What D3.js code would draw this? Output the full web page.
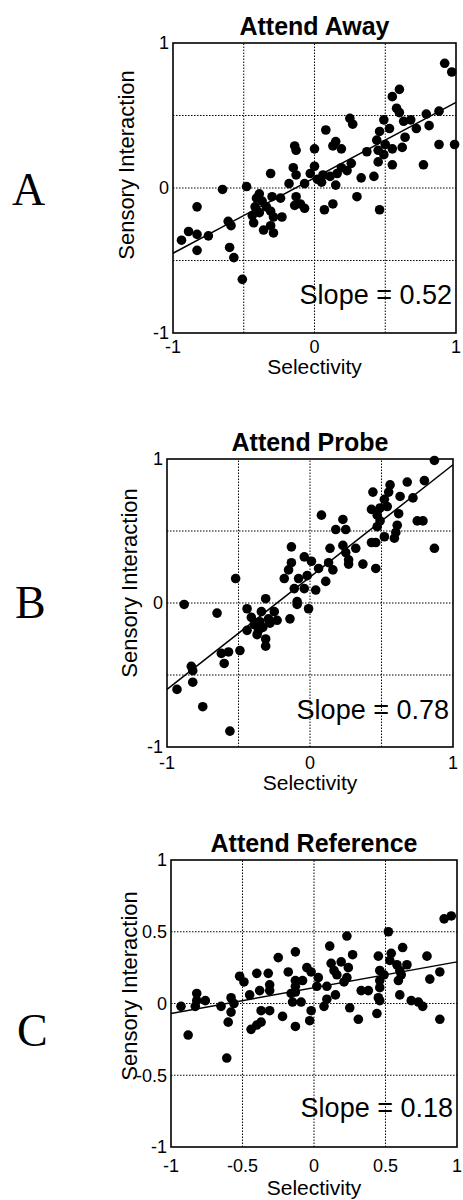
<!DOCTYPE html>
<html><head><meta charset="utf-8">
<script src="https://cdnjs.cloudflare.com/ajax/libs/d3/7.8.5/d3.min.js"></script>
<style>body{margin:0;background:#fff}svg{display:block}</style>
</head><body><svg id="c" width="463" height="1200"></svg>
<script>
const panelLetters = ["A", "B", "C"];
const panelTitles = ["Attend Away", "Attend Probe", "Attend Reference"];
const slopeLabels = ["Slope = 0.52", "Slope = 0.78", "Slope = 0.18"];
const fitSlopes = [0.52, 0.78, 0.18];
const fitIntercepts = [0.07, 0.18, 0.11];
const xTicksA = [-1, 0, 1];
const xTicksB = [-1, 0, 1];
const xTicksC = [-1, -0.5, 0, 0.5, 1];
const yTicksA = [-1, 0, 1];
const yTicksB = [-1, 0, 1];
const yTicksC = [-1, -0.5, 0, 0.5, 1];
const gridValues = [-0.5, 0, 0.5];
const xAxisTitle = "Selectivity";
const yAxisTitle = "Sensory Interaction";

const selectivityA = [0.92,0.97,0.60,0.55,0.58,0.60,0.79,0.88,0.25,0.27,0.49,0.63,0.68,0.72,0.81,0.08,0.46,0.53,0.64,0.15,0.13,0.19,-0.14,-0.13,0.00,0.37,0.44,0.45,0.50,0.55,0.62,0.88,0.49,0.45,0.55,0.77,0.26,0.23,0.19,0.33,0.42,-0.15,-0.13,0.00,-0.03,-0.31,0.06,0.11,0.16,-0.18,-0.07,0.02,0.05,0.15,-0.48,-0.65,0.99,-0.39,-0.30,-0.24,-0.41,-0.37,-0.42,-0.34,-0.44,-0.43,-0.39,-0.31,-0.29,-0.23,-0.36,-0.31,-0.29,-0.13,-0.10,-0.14,-0.07,-0.83,-0.89,-0.94,-0.83,-0.75,-0.83,-0.61,-0.59,-0.60,-0.57,-0.51,0.07,0.13,0.30,0.46];
const interactionA = [0.86,0.80,0.68,0.63,0.55,0.52,0.51,0.53,0.48,0.44,0.47,0.46,0.47,0.41,0.43,0.40,0.39,0.41,0.35,0.32,0.29,0.27,0.29,0.26,0.27,0.25,0.33,0.26,0.30,0.27,0.28,0.30,0.23,0.18,0.16,0.16,0.17,0.12,0.14,0.07,0.08,0.14,0.09,0.15,0.10,0.10,0.09,0.08,0.10,0.03,0.03,0.06,0.04,0.02,0.01,-0.01,0.30,-0.04,-0.06,-0.07,-0.07,-0.09,-0.13,-0.13,-0.19,-0.24,-0.17,-0.16,-0.20,-0.20,-0.29,-0.26,-0.31,-0.06,-0.11,-0.12,-0.14,-0.13,-0.30,-0.36,-0.32,-0.33,-0.43,-0.23,-0.26,-0.41,-0.48,-0.63,-0.15,-0.11,-0.06,-0.15];

const selectivityB = [0.87,0.56,0.44,0.68,0.80,0.55,0.63,0.72,0.52,0.43,0.49,0.54,0.47,0.62,0.08,0.23,0.18,0.25,0.47,0.49,0.61,0.60,0.59,0.75,0.79,0.52,0.43,0.46,0.87,-0.13,0.14,0.23,0.25,0.32,-0.04,0.01,-0.13,-0.15,0.06,0.13,0.16,0.27,0.27,0.37,0.46,-0.18,-0.08,-0.02,0.11,-0.11,-0.04,0.04,-0.52,-0.31,-0.09,-0.88,-0.65,-0.44,-0.09,-0.01,-0.14,-0.23,-0.41,-0.39,-0.35,-0.33,-0.29,-0.28,-0.36,-0.44,-0.37,-0.31,-0.31,-0.49,-0.62,-0.57,-0.60,-0.83,-0.82,-0.82,-0.93,-0.75,-0.56,-0.25,-0.34];
const interactionB = [0.99,0.82,0.77,0.84,0.85,0.77,0.74,0.73,0.72,0.65,0.66,0.67,0.61,0.62,0.61,0.58,0.51,0.51,0.53,0.57,0.54,0.49,0.45,0.57,0.57,0.46,0.42,0.42,0.38,0.39,0.38,0.40,0.35,0.38,0.32,0.29,0.28,0.23,0.24,0.28,0.23,0.30,0.27,0.27,0.24,0.17,0.17,0.19,0.15,0.10,0.10,0.09,0.17,0.03,0.01,-0.01,-0.07,-0.04,-0.01,-0.04,-0.11,-0.12,-0.10,-0.15,-0.13,-0.17,-0.11,-0.14,-0.19,-0.19,-0.22,-0.25,-0.30,-0.33,-0.35,-0.34,-0.42,-0.44,-0.47,-0.55,-0.60,-0.72,-0.89,-0.06,-0.06];

const selectivityC = [0.91,0.96,0.52,0.23,0.11,-0.13,-0.25,0.27,0.62,0.54,0.53,0.45,0.79,0.12,0.19,0.24,0.14,0.16,-0.05,-0.02,-0.18,-0.40,-0.32,-0.52,-0.49,0.03,-0.08,-0.13,-0.13,-0.13,0.46,0.49,0.46,0.58,0.60,0.65,0.61,0.59,0.88,0.81,0.21,0.23,0.09,0.02,-0.31,-0.38,-0.31,-0.45,0.33,0.38,0.46,0.45,0.46,0.60,0.68,0.73,0.76,0.15,0.09,-0.16,-0.15,-0.09,-0.58,-0.56,-0.82,-0.82,-0.76,-0.93,-0.83,-0.65,-0.58,-0.60,-0.88,-0.61,-0.44,-0.40,-0.37,-0.37,-0.31,-0.22,-0.13,-0.03,-0.02,0.07,0.25,0.31,0.44,0.88];
const interactionC = [0.59,0.61,0.50,0.47,0.40,0.36,0.32,0.34,0.39,0.35,0.30,0.33,0.33,0.28,0.29,0.25,0.23,0.20,0.25,0.22,0.22,0.21,0.21,0.19,0.15,0.18,0.16,0.16,0.12,0.08,0.23,0.20,0.16,0.27,0.23,0.27,0.20,0.16,0.22,0.17,0.15,0.18,0.12,0.12,0.13,0.09,0.09,0.06,0.09,0.09,0.11,0.04,0.02,0.06,0.02,0.01,-0.02,0.06,0.03,0.07,0.01,0.01,0.04,0.00,0.07,0.02,0.02,-0.02,-0.02,-0.02,-0.06,-0.13,-0.22,-0.38,-0.18,-0.15,-0.13,-0.05,-0.05,-0.09,-0.16,-0.12,-0.05,-0.02,-0.03,-0.11,-0.07,-0.11];

const xSeries = [selectivityA, selectivityB, selectivityC];
const ySeries = [interactionA, interactionB, interactionC];
const xTickSets = [xTicksA, xTicksB, xTicksC];
const yTickSets = [yTicksA, yTicksB, yTicksC];

// layout (pixel geometry, kept separate from data)
const layout = [
  {left:173, right:456, top:43,  bottom:333,  letterX:12, letterY:205,  ylabX:134, ylabY:165, slopeY:304,  xtickY:353,  xlabY:374},
  {left:167, right:453, top:459, bottom:747,  letterX:15, letterY:618,  ylabX:137, ylabY:583, slopeY:719,  xtickY:769,  xlabY:790},
  {left:171, right:457, top:860, bottom:1147, letterX:17, letterY:1046, ylabX:137, ylabY:986, slopeY:1117, xtickY:1172, xlabY:1195}
];

const svg = d3.select("#c");
const SANS = "'Liberation Sans', Arial, Helvetica, sans-serif";

layout.forEach((L, i) => {
  const x = d3.scaleLinear().domain([-1, 1]).range([L.left, L.right]);
  const y = d3.scaleLinear().domain([-1, 1]).range([L.bottom, L.top]);
  const g = svg.append("g");

  g.selectAll(".gx").data(gridValues).join("line")
    .attr("x1", d => x(d)).attr("x2", d => x(d))
    .attr("y1", y(-1)).attr("y2", y(1))
    .attr("stroke", "#000").attr("stroke-width", 1).attr("stroke-dasharray", "1.5,1.5");
  g.selectAll(".gy").data(gridValues).join("line")
    .attr("y1", d => y(d)).attr("y2", d => y(d))
    .attr("x1", x(-1)).attr("x2", x(1))
    .attr("stroke", "#000").attr("stroke-width", 1).attr("stroke-dasharray", "1.5,1.5");

  const fx = [-1, 1];
  g.append("line")
    .attr("x1", x(fx[0])).attr("y1", y(fitSlopes[i] * fx[0] + fitIntercepts[i]))
    .attr("x2", x(fx[1])).attr("y2", y(fitSlopes[i] * fx[1] + fitIntercepts[i]))
    .attr("stroke", "#000").attr("stroke-width", 1.5);

  const pts = xSeries[i].map((v, k) => [v, ySeries[i][k]]);
  g.selectAll("circle").data(pts).join("circle")
    .attr("cx", d => x(d[0])).attr("cy", d => y(d[1])).attr("r", 4.8).attr("fill", "#000");

  g.append("rect").attr("x", L.left).attr("y", L.top)
    .attr("width", L.right - L.left).attr("height", L.bottom - L.top)
    .attr("fill", "none").attr("stroke", "#000").attr("stroke-width", 1.6);

  g.selectAll(".xt").data(xTickSets[i]).join("text")
    .attr("x", d => x(d)).attr("y", L.xtickY).attr("text-anchor", "middle")
    .attr("font-family", SANS).attr("font-size", 18).text(d => String(d));
  g.selectAll(".yt").data(yTickSets[i]).join("text")
    .attr("x", L.left - 4).attr("y", d => y(d)).attr("dy", "0.35em").attr("text-anchor", "end")
    .attr("font-family", SANS).attr("font-size", 18).text(d => String(d));

  g.append("text").attr("x", (L.left + L.right) / 2).attr("y", L.top - 8)
    .attr("text-anchor", "middle").attr("font-family", SANS).attr("font-weight", "bold")
    .attr("font-size", 25).text(panelTitles[i]);

  g.append("text").attr("x", (L.left + L.right) / 2).attr("y", L.xlabY)
    .attr("text-anchor", "middle").attr("font-family", SANS).attr("font-size", 21).text(xAxisTitle);
  g.append("text").attr("transform", `translate(${L.ylabX},${L.ylabY}) rotate(-90)`)
    .attr("text-anchor", "middle").attr("font-family", SANS).attr("font-size", 22).text(yAxisTitle);

  g.append("text").attr("x", L.right - 4).attr("y", L.slopeY).attr("text-anchor", "end")
    .attr("font-family", SANS).attr("font-size", 27).text(slopeLabels[i]);

  svg.append("text").attr("x", L.letterX).attr("y", L.letterY)
    .attr("font-family", "'Liberation Serif', 'Times New Roman', serif").attr("font-size", 46)
    .text(panelLetters[i]);
});
</script></body></html>
